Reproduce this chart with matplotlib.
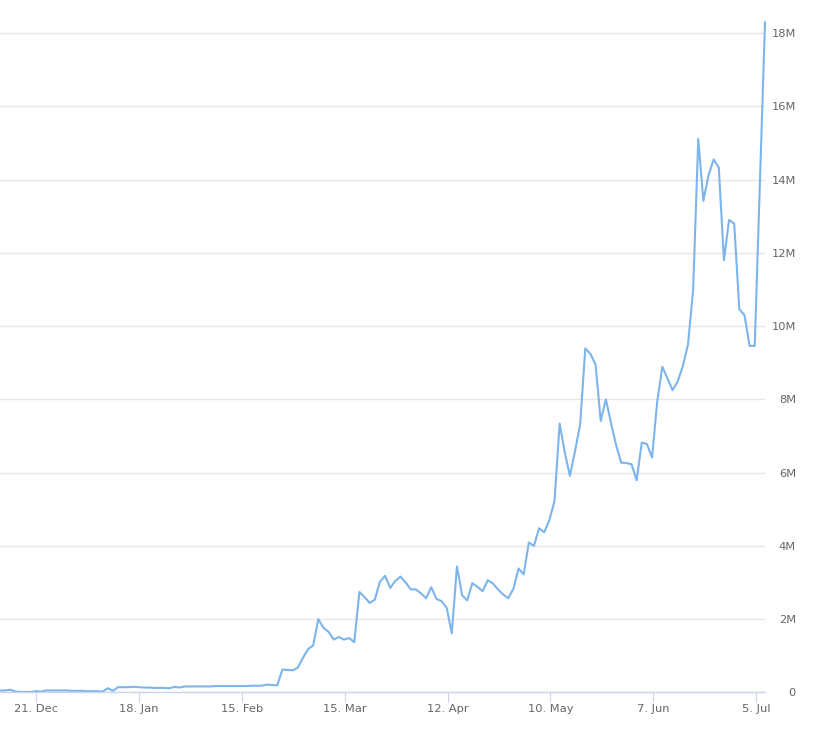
import matplotlib
matplotlib.use("Agg")
import matplotlib.pyplot as plt
import numpy as np
import pandas as pd

# ---- data (values in millions) ----
values_m = [
    0.05, 0.05, 0.07, 0.02, 0.01, 0.01, 0.01, 0.03, 0.02, 0.05,
    0.05, 0.05, 0.05, 0.05, 0.04, 0.04, 0.04, 0.03, 0.03, 0.03,
    0.02, 0.11, 0.04, 0.14, 0.14, 0.14, 0.15, 0.14, 0.13, 0.13,
    0.12, 0.12, 0.12, 0.11, 0.15, 0.13, 0.16, 0.16, 0.16, 0.16,
    0.16, 0.16, 0.17, 0.17, 0.17, 0.17, 0.17, 0.17, 0.17, 0.18,
    0.18, 0.18, 0.21, 0.20, 0.19, 0.62, 0.61, 0.60, 0.67, 0.94,
    1.18, 1.28, 2.00, 1.76, 1.65, 1.44, 1.51, 1.44, 1.48, 1.37,
    2.74, 2.60, 2.44, 2.53, 3.02, 3.18, 2.85, 3.04, 3.16, 3.00,
    2.81, 2.81, 2.70, 2.57, 2.87, 2.55, 2.49, 2.31, 1.61, 3.44,
    2.65, 2.51, 2.98, 2.88, 2.76, 3.06, 2.97, 2.81, 2.67, 2.57,
    2.83, 3.38, 3.22, 4.09, 4.00, 4.48, 4.37, 4.70, 5.22, 7.34,
    6.55, 5.91, 6.59, 7.32, 9.39, 9.24, 8.95, 7.41, 8.00, 7.36,
    6.75, 6.27, 6.26, 6.23, 5.79, 6.82, 6.78, 6.41, 7.93, 8.89,
    8.57, 8.25, 8.49, 8.91, 9.50, 10.98, 15.11, 13.42, 14.12, 14.55,
    14.33, 11.80, 12.90, 12.80, 10.46, 10.30, 9.46, 9.46, 18.30,
]
# sampling: one reading every ~33.5 hours, with one reading missing before the last
all_dates = pd.date_range("2020-12-11 02:48", periods=150, freq="33h33min")
dates = all_dates[list(range(148)) + [149]]
values = np.array(values_m) * 1e6

x_tick_dates = pd.to_datetime(["2020-12-21", "2021-01-18", "2021-02-15", "2021-03-15",
                               "2021-04-12", "2021-05-10", "2021-06-07", "2021-07-05"])
x_tick_labels = ["21. Dec", "18. Jan", "15. Feb", "15. Mar", "12. Apr", "10. May", "7. Jun", "5. Jul"]
y_ticks = [0, 2e6, 4e6, 6e6, 8e6, 10e6, 12e6, 14e6, 16e6, 18e6]
y_tick_labels = ["0", "2M", "4M", "6M", "8M", "10M", "12M", "14M", "16M", "18M"]

# ---- figure ----
W, H = 824, 733
fig = plt.figure(figsize=(W / 100, H / 100), dpi=100)
plt.rcParams["font.family"] = ["DejaVu Sans"]
ax = fig.add_axes([0 / W, (H - 692.3) / H, 765 / W, 682.3 / H])

ax.plot(dates, values, color="#7cb5ec", linewidth=1.5, solid_joinstyle="round",
        solid_capstyle="round", zorder=3, clip_on=False)

ax.set_xlim(dates[0], dates[-1])
ax.set_ylim(0, 682.3 / 36.62 * 1e6)

ax.set_yticks(y_ticks)
ax.set_yticklabels(y_tick_labels)
ax.set_xticks(x_tick_dates)
ax.set_xticklabels(x_tick_labels)

ax.yaxis.tick_right()
ax.grid(axis="y", color="#e6e6e6", linewidth=1)
ax.set_axisbelow(True)

for s in ["left", "right", "top"]:
    ax.spines[s].set_visible(False)
ax.spines["bottom"].set_color("#ccd6eb")
ax.spines["bottom"].set_linewidth(1)
ax.spines["bottom"].set_zorder(4)

ax.tick_params(axis="x", length=7.2, width=0.8, color="#ccd6eb", pad=1.5,
               labelsize=8.25, labelcolor="#666666")
ax.tick_params(axis="y", length=0, pad=22.3, labelsize=8.25, labelcolor="#666666")
for lab in ax.get_yticklabels():
    lab.set_horizontalalignment("right")

fig.savefig("out.png", dpi=100)
